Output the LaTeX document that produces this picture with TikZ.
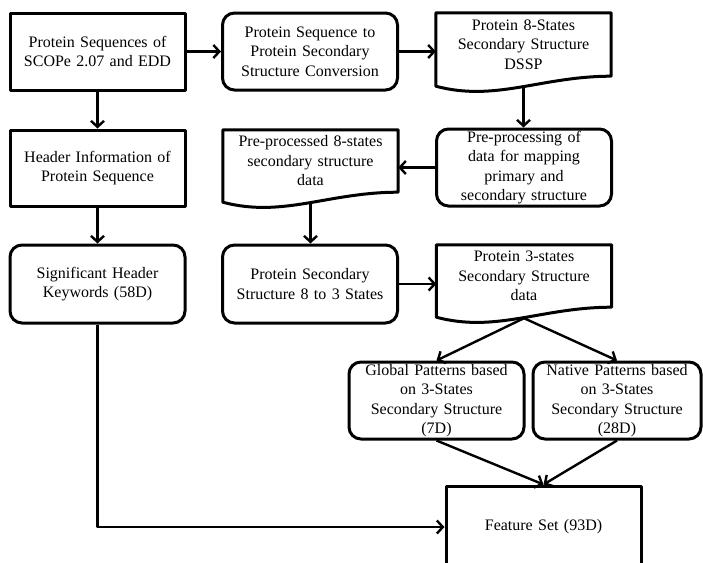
\documentclass[tikz,border=0pt]{standalone}
\usepackage{fontspec}
\setmainfont{Liberation Serif}
\usetikzlibrary{arrows.meta}
\begin{document}
\begin{tikzpicture}[x=1pt, y=1pt, line join=round, >={Straight Barb[length=6pt,width=13pt]},
		font=\fontsize{16}{19.5}\selectfont,
		box/.style={draw, line width=3pt, minimum width=175pt, minimum height=77pt, text width=168pt, align=center, inner sep=0pt},
		rbox/.style={box, rounded corners=12pt},
		doc/.style={minimum width=175pt, minimum height=62pt, text width=168pt, align=center, inner sep=0pt},
		docline/.style={line width=3pt},
		arr/.style={->, line width=2.4pt}]
	\useasboundingbox (0,0) rectangle (703,-562);
	\clip (0,0) rectangle (703,-562);
	% hàng 1
	\node[box] (seq) at (97.5,-51.5) {Protein Sequences of\\SCOPe 2.07 and EDD};
	\node[rbox] (conv) at (310,-51.5) {Protein Sequence to\\Protein Secondary\\Structure Conversion};
	\node[doc, minimum height=63pt] (dssp) at (523.5,-44.5) {Protein 8-States\\Secondary Structure\\DSSP};
	% hàng 2
	\node[box, minimum height=76pt] (header) at (97.5,-168) {Header Information of\\Protein Sequence};
	\node[doc] (prep8) at (310.5,-161) {Pre-processed 8-states\\secondary structure\\data};
	\node[rbox] (preproc) at (524,-167.5) {Pre-processing of\\data for mapping\\primary and\\secondary structure};
	% hàng 3
	\node[rbox, minimum height=78pt] (keyw) at (97.5,-284) {Significant Header\\Keywords (58D)};
	\node[rbox, minimum height=78pt] (conv83) at (310,-284) {Protein Secondary\\Structure 8 to 3 States};
	\node[doc] (states3) at (524,-276) {Protein 3-states\\Secondary Structure\\data};
	% hàng 4
	\node[rbox] (glob) at (436.5,-400.5) {Global Patterns based\\on 3-States\\Secondary Structure\\(7D)};
	\node[rbox, minimum width=168pt, text width=162pt] (nat) at (617,-400.5) {Native Patterns based\\on 3-States\\Secondary Structure\\(28D)};
	\node[box, minimum width=195pt, minimum height=82pt, text width=188pt] (feat) at (543.5,-527) {Feature Set (93D)};
	% khung tài liệu (đáy lượn sóng)
	\draw[docline] (dssp.north west)--(dssp.north east)--(dssp.south east) .. controls +(-70,0) and +(60,-16) .. ([yshift=-10pt]dssp.south west)--cycle;
	\draw[docline] (prep8.north west)--(prep8.north east)--(prep8.south east) .. controls +(-70,0) and +(60,-16) .. ([yshift=-10pt]prep8.south west)--cycle;
	\draw[docline] (states3.north west)--(states3.north east)--(states3.south east) .. controls +(-70,0) and +(60,-16) .. ([yshift=-10pt]states3.south west)--cycle;
	\coordinate (dssp-b) at ([yshift=-11pt]dssp.south);
	\coordinate (prep8-b) at ([yshift=-11pt]prep8.south);
	\coordinate (states3-b) at ([yshift=-11pt]states3.south);
	% mũi tên
	\draw[arr] (seq)--(conv);
	\draw[arr] (conv.east)--(conv.east -| dssp.west);
	\draw[arr] (seq)--(header);
	\draw[arr] (dssp-b)--(dssp-b |- preproc.north);
	\draw[arr] (preproc.west)--(preproc.west -| prep8.east);
	\draw[arr] (prep8-b)--(prep8-b |- conv83.north);
	\draw[arr] (header)--(keyw);
	\draw[arr] (conv83.east)--(conv83.east -| states3.west);
	\draw[arr] (states3-b)--(glob.north);
	\draw[arr] (states3-b)--(nat.north);
	\draw[arr] (glob.south)--(feat.north);
	\draw[arr] (nat.south)--(feat.north);
	\draw[arr] (keyw.south) |- (feat.west);
\end{tikzpicture}
\end{document}
